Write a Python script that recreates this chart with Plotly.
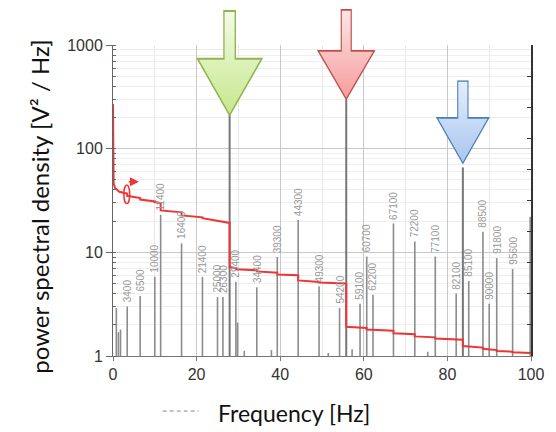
import base64
import math
import plotly.graph_objects as go

# Spectral lines: frequency [Hz] and power spectral density [V^2/Hz]
line_freq = [0.8, 1.3, 1.8, 3.4, 6.5, 10.0, 11.4, 16.4, 21.4, 25.0, 26.3, 27.9,
             29.4, 29.8, 31.4, 34.4, 37.9, 39.3, 44.3, 49.3, 51.5, 54.2, 55.8,
             57.2, 59.1, 60.7, 62.2, 67.1, 72.2, 75.3, 77.1, 82.1, 83.7, 85.1,
             88.5, 90.0, 91.8, 95.6, 99.8]
line_psd = [2.9, 1.7, 1.8, 3.0, 3.8, 5.8, 23.0, 12.2, 5.8, 3.7, 3.7, 215.0,
            5.2, 2.1, 1.12, 4.6, 1.14, 9.0, 20.5, 4.7, 1.07, 2.9, 300.0,
            1.16, 3.2, 9.1, 3.9, 19.0, 12.7, 1.1, 9.1, 4.0, 66.0, 5.3,
            15.8, 3.2, 8.8, 6.9, 22.0]

# Dominant harmonics, highlighted with block arrows
main_freq = [27.9, 55.8, 83.7]
main_psd = [215.0, 300.0, 66.0]

# Labelled lines (label text in mHz)
label_freq = [3.4, 6.5, 10.0, 11.4, 16.4, 21.4, 25.0, 26.3, 29.4, 34.4, 39.3,
              44.3, 49.3, 54.2, 59.1, 60.7, 62.2, 67.1, 72.2, 77.1, 82.1,
              85.1, 88.5, 90.0, 91.8, 95.6]
label_text = ["3400", "6500", "10000", "11400", "16400", "21400", "25000",
              "26300", "29400", "34400", "39300", "44300", "49300", "54200",
              "59100", "60700", "62200", "67100", "72200", "77100", "82100",
              "85100", "88500", "90000", "91800", "95600"]

# Remaining (normalised) power curve on the right-hand linear axis;
# repeated frequencies give the vertical drops at each line
rest_freq = [0, 0.03, 0.15, 0.5, 1.5,
             3.4, 3.4, 6.5, 6.5, 10.0, 10.0, 11.4, 11.4, 16.4, 16.4,
             21.4, 21.4, 27.9, 27.9, 29.4, 29.4, 34.4, 34.4, 39.3, 39.3,
             44.3, 44.3, 49.3, 49.3, 55.8, 55.8, 60.7, 60.7, 67.1, 67.1,
             72.2, 72.2, 77.1, 77.1, 83.7, 83.7, 88.5, 88.5, 91.8, 91.8,
             95.6, 95.6, 100]
rest_frac = [0.81, 0.60, 0.555, 0.54, 0.528,
             0.522, 0.515, 0.508, 0.503, 0.497, 0.495, 0.492, 0.468,
             0.462, 0.452, 0.446, 0.443, 0.428, 0.286, 0.283, 0.279,
             0.276, 0.272, 0.268, 0.262, 0.260, 0.243, 0.238, 0.236,
             0.233, 0.094, 0.090, 0.085, 0.081, 0.073, 0.070, 0.063,
             0.060, 0.056, 0.052, 0.032, 0.027, 0.023, 0.019, 0.016,
             0.014, 0.012, 0.010]

fig = go.Figure()

main_set = set(main_freq)
sx, sy, mx, my = [], [], [], []
for f, p in zip(line_freq, line_psd):
    if f in main_set:
        mx += [f, f, None]
        my += [1, p, None]
    else:
        sx += [f, f, None]
        sy += [1, p, None]

fig.add_trace(go.Scatter(x=sx, y=sy, mode="lines",
                         line=dict(color="#8c8c8c", width=1.6),
                         hoverinfo="skip", showlegend=False))
fig.add_trace(go.Scatter(x=mx, y=my, mode="lines",
                         line=dict(color="#777777", width=2),
                         hoverinfo="skip", showlegend=False))
fig.add_trace(go.Scatter(x=rest_freq, y=rest_frac, yaxis="y2", mode="lines",
                         line=dict(color="#ee3535", width=2),
                         hoverinfo="skip", showlegend=False))

# Rotated value labels above the lines
psd_of = dict(zip(line_freq, line_psd))
for f, t in zip(label_freq, label_text):
    fig.add_annotation(x=f, y=math.log10(psd_of[f]), xref="x", yref="y",
                       text=t, showarrow=False, textangle=-90,
                       xanchor="center", yanchor="bottom", yshift=2,
                       font=dict(family="Liberation Sans", size=10,
                                 color="#999999"))


# Block arrows with a vertical gradient
def arrow_svg(top, bottom, stroke, shaft, head_top):
    a = 50 - shaft / 2
    b = 50 + shaft / 2
    path = (f"M{a},1 L{b},1 L{b},{head_top} L98,{head_top} L50,99 "
            f"L2,{head_top} L{a},{head_top} Z")
    svg = (
        '<svg xmlns="http://www.w3.org/2000/svg" width="100" height="100" '
        'viewBox="0 0 100 100" preserveAspectRatio="none">'
        '<defs><linearGradient id="g" x1="0" y1="0" x2="0" y2="1">'
        f'<stop offset="0" stop-color="{top}"/>'
        f'<stop offset="1" stop-color="{bottom}"/>'
        '</linearGradient></defs>'
        f'<path d="{path}" fill="url(#g)" stroke="{stroke}" stroke-width="2" '
        'vector-effect="non-scaling-stroke" stroke-linejoin="miter"/>'
        '</svg>'
    )
    return "data:image/svg+xml;base64," + base64.b64encode(svg.encode()).decode()


arrow_style = [
    dict(top="#f3fbe6", bottom="#c6e78c", stroke="#93b550", shaft=17,
         head_top=46, width=16.0, y_top=1.113, height=0.342),
    dict(top="#fde6e6", bottom="#f59c9c", stroke="#c0504d", shaft=17,
         head_top=46, width=14.0, y_top=1.116, height=0.293),
    dict(top="#e4eefc", bottom="#a9c5ef", stroke="#4a7ebb", shaft=19,
         head_top=45, width=12.9, y_top=0.887, height=0.270),
]
for f, st in zip(main_freq, arrow_style):
    fig.add_layout_image(dict(
        source=arrow_svg(st["top"], st["bottom"], st["stroke"], st["shaft"],
                         st["head_top"]),
        xref="x", yref="paper", x=f, y=st["y_top"],
        sizex=st["width"], sizey=st["height"],
        xanchor="center", yanchor="top", sizing="stretch", layer="above"))

# Small rotation marker on the red curve (points to the right axis)
fig.add_shape(type="circle", xref="x", yref="y2", x0=2.6, x1=4.0,
              y0=0.49, y1=0.55, line=dict(color="#ee3535", width=1.5))
fig.add_annotation(x=6.2, y=0.56, xref="x", yref="y2", ax=3.4, ay=0.56,
                   axref="x", ayref="y2", showarrow=True, arrowhead=2,
                   arrowsize=1.2, arrowwidth=1.5, arrowcolor="#ee3535", text="")

# Axis titles
fig.add_annotation(x=0, y=0.48, xref="paper", yref="paper", xshift=-73,
                   text="power spectral density [V² / Hz]", textangle=-90,
                   showarrow=False, xanchor="center", yanchor="middle",
                   font=dict(family="Lato", size=24, color="#111111"))
fig.add_annotation(x=0.432, y=0, xref="paper", yref="paper", yshift=-57,
                   text="Frequency [Hz]", showarrow=False,
                   xanchor="center", yanchor="middle",
                   font=dict(family="Lato", size=23, color="#111111"))
fig.add_shape(type="line", xref="paper", yref="paper", x0=0.119, x1=0.205,
              y0=-0.177, y1=-0.177, line=dict(color="#888888", width=1,
                                               dash="4px,3px"))

fig.update_layout(
    width=556, height=432,
    margin=dict(l=113, r=22, t=45, b=76),
    paper_bgcolor="white", plot_bgcolor="white",
    showlegend=False,
    xaxis=dict(range=[0, 100], dtick=20, tick0=0,
               showgrid=True, gridcolor="#c8c8c8", gridwidth=1,
               minor=dict(dtick=10, showgrid=True, gridcolor="#e8e8e8"),
               zeroline=False, showline=True, linecolor="#777777",
               ticks="outside", ticklen=4, tickcolor="#777777",
               tickfont=dict(family="Liberation Sans", size=16,
                             color="#333333")),
    yaxis=dict(type="log", range=[0, 3], tickvals=[1, 10, 100, 1000],
               ticktext=["1", "10", "100", "1000"],
               showgrid=True, gridcolor="#c8c8c8", gridwidth=1,
               minor=dict(dtick="D1", showgrid=True, gridcolor="#eeeeee",
                          ticks="inside", ticklen=3, tickcolor="#666666"),
               zeroline=False, showline=True, linecolor="#666666",
               ticks="outside", ticklen=6, tickcolor="#666666",
               tickfont=dict(family="Liberation Sans", size=16,
                             color="#333333")),
    yaxis2=dict(overlaying="y", side="right", range=[0, 1], dtick=0.1,
                showticklabels=False, showgrid=False, zeroline=False,
                showline=True, linecolor="#333333", linewidth=1.5,
                ticks="inside", ticklen=4, tickcolor="#333333"),
)

fig.write_html("out.html")
